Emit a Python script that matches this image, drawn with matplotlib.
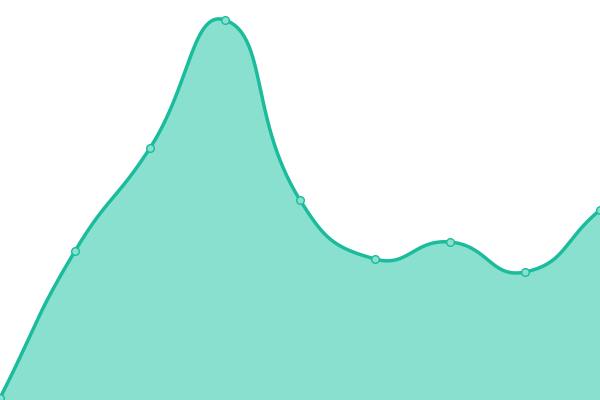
import numpy as np
import matplotlib
matplotlib.use("Agg")
import matplotlib.pyplot as plt

categories = ["A", "B", "C", "D", "E", "F", "G", "H", "I"]
values = [2, 149, 252, 380, 200, 141, 158, 128, 190]

LINE = "#1abc9c"
FILL = "#8ae0cf"

fig = plt.figure(figsize=(6, 4), dpi=100)
ax = fig.add_axes([0, 0, 1, 1])
ax.set_xlim(0, len(categories) - 1)
ax.set_ylim(0, 400)
ax.axis("off")

xs = np.arange(len(categories), dtype=float)
ys = np.array(values, dtype=float)
pts = ax.transData.transform(np.column_stack([xs, ys]))

smooth = 0.5
n = len(pts)
cps_in = [None] * n
cps_out = [None] * n
for i in range(n):
    p = pts[i]
    prev = pts[i - 1] if i > 0 else p
    nxt = pts[i + 1] if i < n - 1 else p
    v = nxt - prev
    d0 = np.hypot(*(p - prev))
    d1 = np.hypot(*(nxt - p))
    tot = d0 + d1
    r1 = d1 / tot if tot > 0 else 0.5
    cps_in[i] = p - v * smooth * (1 - r1)
    cps_out[i] = p + v * smooth * r1

curve = []
t = np.linspace(0, 1, 60)[:, None]
for i in range(n - 1):
    p0, p1, p2, p3 = pts[i], cps_out[i], cps_in[i + 1], pts[i + 1]
    seg = ((1 - t) ** 3) * p0 + 3 * ((1 - t) ** 2) * t * p1 + 3 * (1 - t) * t ** 2 * p2 + t ** 3 * p3
    curve.append(seg if i == 0 else seg[1:])
curve = np.vstack(curve)
data_curve = ax.transData.inverted().transform(curve)

ax.fill_between(data_curve[:, 0], data_curve[:, 1], 0, color=FILL, linewidth=0)
ax.plot(data_curve[:, 0], data_curve[:, 1], color=LINE, linewidth=2.5, solid_capstyle="round")
ax.plot(xs, ys, linestyle="none", marker="o", markersize=5.5,
        markerfacecolor=FILL, markeredgecolor=LINE, markeredgewidth=1.0, clip_on=True)

fig.savefig("out.png", dpi=100)
